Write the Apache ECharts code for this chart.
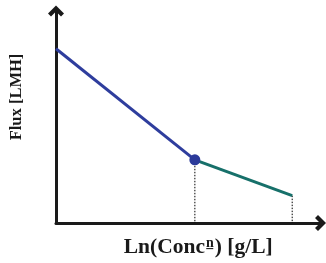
<!DOCTYPE html>
<html>
<head>
<meta charset="utf-8">
<script src="https://cdn.jsdelivr.net/npm/echarts@6/dist/echarts.min.js"></script>
<style>
html, body { margin: 0; padding: 0; background: #fff; }
#chart { width: 326px; height: 263px; }
</style>
</head>
<body>
<div id="chart"></div>
<script>
// schematic curve: flux falls with ln(conc), slope changes at the knee
const blueLine = [[0, 8.22], [5.25, 2.98]];
const greenLine = [[5.25, 2.98], [8.93, 1.29]];
const kneePoint = [[5.25, 2.98]];
const dropLines = [
    [[5.25, 2.98], [5.25, 0]],
    [[8.93, 1.29], [8.93, 0]]
];

const chevron = 'path://M0,8 L8,0 L16,8 L13,11 L8,6 L3,11 Z';
const axisColor = '#1a1a1a';

const chart = echarts.init(document.getElementById('chart'));

const option = {
    animation: false,
    grid: { left: 54, right: 5.5, top: 11, bottom: 39 },
    xAxis: {
        type: 'value',
        min: 0,
        max: 10,
        name: '{b|Ln(Conc}{s|n\u0332}{b|) [g/L]}',
        nameLocation: 'middle',
        nameGap: 13,
        nameTextStyle: {
            padding: [0, 0, 0, 20],
            rich: {
                b: { fontFamily: 'Liberation Serif', fontWeight: 'bold', fontSize: 21.5, color: '#1a1a1a' },
                s: { fontFamily: 'Liberation Serif', fontWeight: 'bold', fontSize: 14, color: '#1a1a1a', verticalAlign: 'top', padding: [0, 1, 6, 1] }
            }
        },
        axisLine: {
            show: true,
            symbol: ['none', chevron],
            symbolSize: [16, 11],
            lineStyle: { color: axisColor, width: 3 }
        },
        axisTick: { show: false },
        axisLabel: { show: false },
        splitLine: { show: false }
    },
    yAxis: {
        type: 'value',
        min: 0,
        max: 10,
        name: 'Flux [LMH]',
        nameLocation: 'middle',
        nameRotate: 90,
        nameGap: 31,
        nameTextStyle: {
            fontFamily: 'Liberation Serif',
            fontWeight: 'bold',
            fontSize: 16.5,
            color: '#1a1a1a',
            padding: [0, 0, 0, 40]
        },
        axisLine: {
            show: true,
            symbol: ['none', chevron],
            symbolSize: [16, 11],
            lineStyle: { color: axisColor, width: 3 }
        },
        axisTick: { show: false },
        axisLabel: { show: false },
        splitLine: { show: false }
    },
    series: [
        ...dropLines.map(d => ({
            type: 'line',
            data: d,
            symbol: 'none',
            lineStyle: { color: '#000', width: 1, type: [1.5, 1.5] },
            z: 1
        })),
        {
            type: 'line',
            data: greenLine,
            symbol: 'none',
            lineStyle: { color: '#17706a', width: 3 },
            z: 2
        },
        {
            type: 'line',
            data: blueLine,
            symbol: 'none',
            lineStyle: { color: '#2e3d9d', width: 3 },
            z: 3
        },
        {
            type: 'scatter',
            data: kneePoint,
            symbolSize: 11,
            itemStyle: { color: '#2b3a9a', opacity: 1 },
            z: 4
        }
    ]
};

chart.setOption(option);
</script>
</body>
</html>
